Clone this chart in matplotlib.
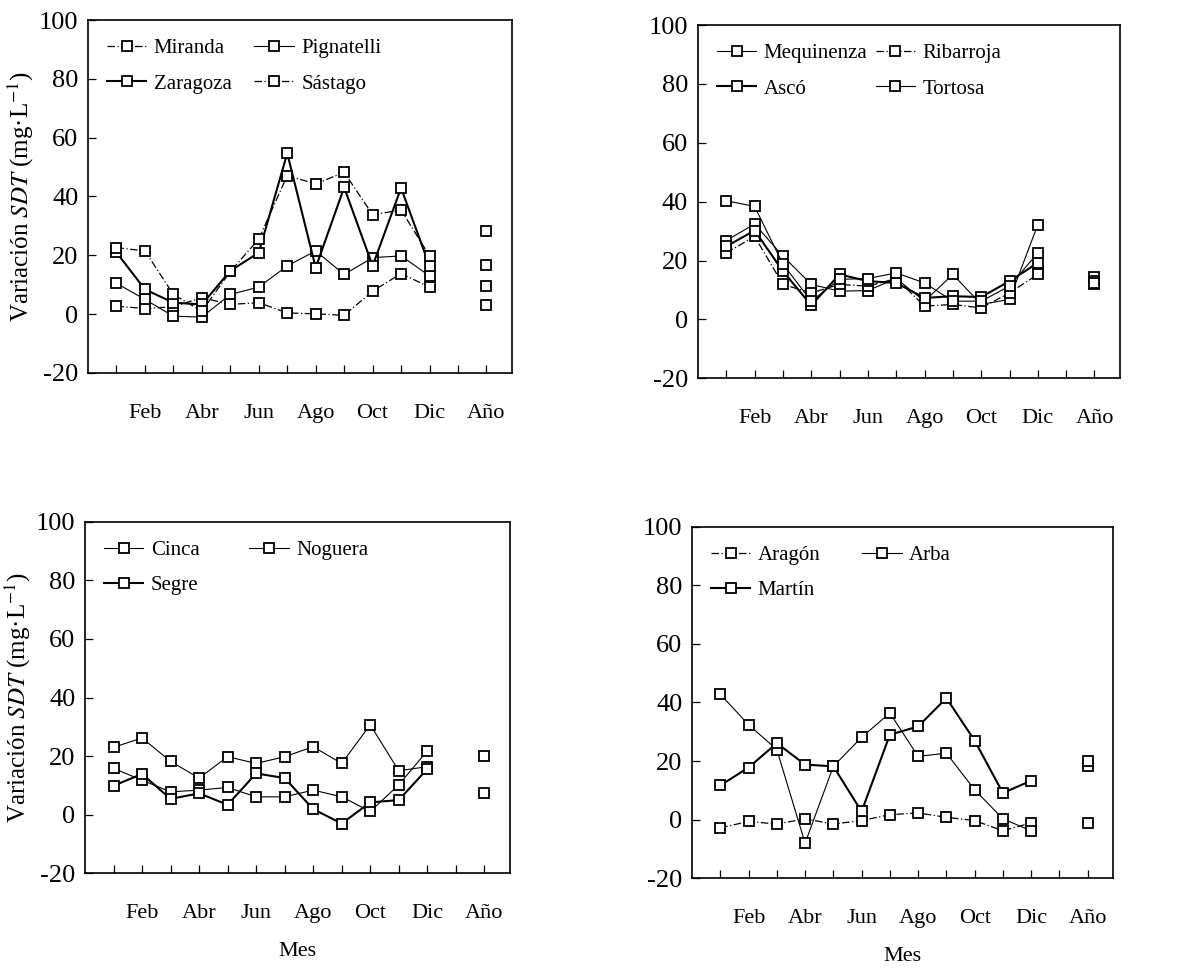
import numpy as np
import matplotlib.pyplot as plt

plt.rcParams['font.family'] = ['Liberation Serif', 'DejaVu Serif']
plt.rcParams['mathtext.fontset'] = 'stix'
plt.rcParams['axes.unicode_minus'] = False

# posiciones: 12 meses + hueco + Año
etiquetas = ['', 'Feb', '', 'Abr', '', 'Jun', '', 'Ago', '', 'Oct', '', 'Dic', '', 'Año']
x_mes = np.arange(1, 13)
x_anio = 14

# ---- panel 1: eje del Ebro alto ----
miranda = [2.7, 1.9, 2.5, 5.6, 3.3, 3.9, 0.4, 0.1, -0.4, 7.8, 13.8, 9.2]
pignatelli = [10.5, 5.0, -0.7, -1.0, 6.7, 9.2, 16.4, 21.5, 13.5, 19.2, 19.8, 13.0]
zaragoza = [21.0, 8.4, 3.9, 3.3, 14.7, 20.9, 54.7, 15.8, 43.1, 16.4, 42.9, 16.4]
sastago = [22.6, 21.5, 6.7, 1.0, 14.5, 25.5, 47.1, 44.3, 48.2, 33.8, 35.4, 19.8]
anio_1 = [3.0, 9.4, 16.6, 28.2]

# ---- panel 2: embalses y tramo bajo ----
mequinenza = [26.8, 32.4, 21.5, 11.9, 9.6, 9.8, 13.9, 6.2, 15.3, 5.1, 6.8, 32.2]
ribarroja = [22.6, 28.2, 11.9, 9.0, 11.9, 11.3, 13.9, 4.5, 5.1, 3.9, 9.0, 15.3]
asco = [24.8, 30.2, 16.4, 4.8, 15.3, 13.0, 12.4, 7.3, 7.9, 7.6, 13.0, 19.2]
tortosa = [40.3, 38.4, 18.8, 6.2, 13.6, 13.9, 15.8, 12.4, 6.2, 6.2, 11.3, 22.6]
anio_2 = [14.5, 12.0, 13.0, 12.5]

# ---- panel 3: afluentes margen izquierda ----
cinca = [15.8, 11.8, 7.8, 8.4, 9.3, 6.1, 6.1, 8.4, 6.1, 1.1, 10.2, 21.8]
noguera = [23.0, 26.2, 18.2, 12.5, 19.8, 17.5, 19.8, 23.2, 17.5, 30.7, 15.0, 16.4]
segre = [9.9, 13.9, 5.4, 7.3, 3.4, 14.1, 12.5, 1.9, -3.0, 4.2, 5.0, 15.6]
anio_3 = [7.4, 20.0, np.nan]

# ---- panel 4: afluentes margen derecha ----
aragon = [-2.8, -0.6, -1.5, 0.3, -1.5, -0.3, 1.7, 2.3, 0.8, -0.3, -3.8, -1.1]
arba = [42.8, 32.4, 23.9, -8.0, 18.2, 28.1, 36.4, 21.6, 22.7, 10.2, 0.3, -3.8]
martin = [11.7, 17.8, 26.1, 18.8, 18.2, 2.8, 29.0, 31.8, 41.5, 27.0, 9.1, 13.3]
anio_4 = [-1.1, 18.2, 20.1]

fino = dict(ls='-', lw=0.8)
grueso = dict(ls='-', lw=1.5)
punto = dict(ls=(0, (6, 2, 1, 2)), lw=0.9)


def panel(ax, series, nombres, estilos, anio, orden, colsp):
    for y, nom, est, ya in zip(series, nombres, estilos, anio):
        ax.plot(x_mes, y, color='k', marker='s', ms=7, mfc='white', mec='k',
                mew=1.3, label=nom, **est)
        ax.plot([x_anio], [ya], color='k', marker='s', ms=7, mfc='white',
                mec='k', mew=1.3, ls='none')
    ax.set_xlim(0, 14.9)
    ax.set_ylim(-20, 100)
    ax.set_yticks(np.arange(-20, 101, 20))
    ax.set_xticks(np.arange(1, 15))
    ax.set_xticklabels(etiquetas, fontsize=16)
    ax.tick_params(axis='x', direction='in', length=6, width=0.9, pad=22)
    ax.tick_params(axis='y', direction='in', length=6, width=0.9, pad=7,
                   labelsize=19)
    for s in ax.spines.values():
        s.set_linewidth(1.2)
    h, l = ax.get_legend_handles_labels()
    ax.legend([h[i] for i in orden], [l[i] for i in orden], ncol=2,
              loc='upper left', frameon=False, fontsize=15,
              handlelength=1.9, handletextpad=0.35, labelspacing=0.75,
              columnspacing=colsp, borderaxespad=0.5)


fig = plt.figure(figsize=(12.04, 9.71), dpi=100)
ax1 = fig.add_axes([0.0731, 0.6159, 0.3522, 0.3635])
ax2 = fig.add_axes([0.5797, 0.6104, 0.3505, 0.3638])
ax3 = fig.add_axes([0.0706, 0.1006, 0.3530, 0.3621])
ax4 = fig.add_axes([0.5748, 0.0955, 0.3497, 0.3621])

panel(ax1, [miranda, pignatelli, zaragoza, sastago],
      ['Miranda', 'Pignatelli', 'Zaragoza', 'Sástago'],
      [punto, fino, grueso, punto], anio_1, [0, 2, 1, 3], 1.1)
panel(ax2, [mequinenza, ribarroja, asco, tortosa],
      ['Mequinenza', 'Ribarroja', 'Ascó', 'Tortosa'],
      [fino, punto, grueso, fino], anio_2, [0, 2, 1, 3], 0.4)
panel(ax3, [cinca, noguera, segre],
      ['Cinca', 'Noguera', 'Segre'],
      [fino, fino, grueso], anio_3, [0, 2, 1], 2.4)
panel(ax4, [aragon, arba, martin],
      ['Aragón', 'Arba', 'Martín'],
      [punto, fino, grueso], anio_4, [0, 2, 1], 2.0)

ylab = 'Variación $SDT$ (mg·L$^{\\mathrm{-1}}$)'
ax1.set_ylabel(ylab, fontsize=18, labelpad=2)
ax3.set_ylabel(ylab, fontsize=18, labelpad=2)
ax3.set_xlabel('Mes', fontsize=16, labelpad=14)
ax4.set_xlabel('Mes', fontsize=16, labelpad=14)

fig.savefig('out.png', dpi=100, facecolor='white')
